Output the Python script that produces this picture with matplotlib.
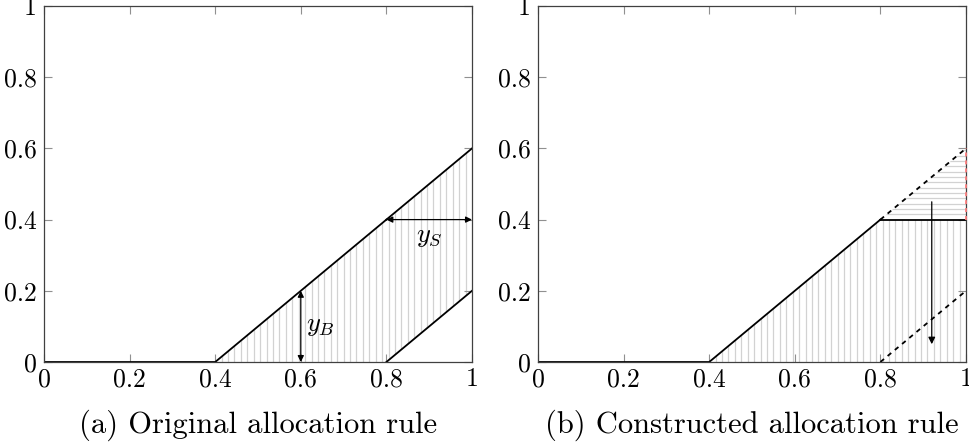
import numpy as np
import matplotlib
matplotlib.use("Agg")
import matplotlib.pyplot as plt

plt.rcParams['font.family'] = ['cmr10', 'DejaVu Serif']
plt.rcParams['mathtext.fontset'] = 'cm'
plt.rcParams['axes.formatter.use_mathtext'] = True

# data
x_pts = [0, 0.4, 0.8, 1.0]
orig_upper = [0, 0, 0.4, 0.6]      # y_B boundary
orig_lower = [0, 0, 0, 0.2]        # y_S boundary
cons_upper = [0, 0, 0.4, 0.4]      # constructed rule
ticks = [0, 0.2, 0.4, 0.6, 0.8, 1.0]
tick_labels = ['0', '0.2', '0.4', '0.6', '0.8', '1']
captions = ['(a) Original allocation rule', '(b) Constructed allocation rule']

hatch_col = '#d2d2d2'
step = 0.015  # pattern spacing

fig = plt.figure(figsize=(9.7, 4.45), dpi=100)
axA = fig.add_axes([44 / 970, 83 / 445, 428 / 970, 356 / 445])
axB = fig.add_axes([538 / 970, 83 / 445, 428 / 970, 356 / 445])

for ax in (axA, axB):
    ax.set_xlim(0, 1)
    ax.set_ylim(0, 1)
    ax.set_xticks(ticks)
    ax.set_xticklabels(tick_labels)
    ax.set_yticks(ticks)
    ax.set_yticklabels(tick_labels)
    ax.tick_params(direction='in', length=5.5, width=0.8, color='#909090',
                   top=True, right=True, labelsize=18.5)
    ax.tick_params(axis='y', pad=5)
    ax.tick_params(axis='x', pad=4)
    for s in ax.spines.values():
        s.set_linewidth(0.9)
        s.set_color('#404040')

xs = np.array(x_pts)


def pattern(ax, poly, vertical=True):
    if vertical:
        lines = ax.vlines(np.arange(0.4 + step, 1.0, step), 0, 1,
                          colors=hatch_col, lw=0.9, zorder=1)
    else:
        lines = ax.hlines(np.arange(0.4 + step, 0.6, step), 0, 1,
                          colors=hatch_col, lw=0.9, zorder=1)
    lines.set_clip_path(poly.get_paths()[0], ax.transData)


# (a) original allocation rule
polyA = axA.fill_between(xs, orig_lower, orig_upper, where=xs >= 0.4,
                         facecolor='none', linewidth=0)
pattern(axA, polyA)
axA.plot(x_pts[:3], orig_upper[:3], color='black', lw=1.3)
axA.plot(x_pts[2:], orig_upper[2:], color='black', lw=1.3)
axA.plot(x_pts[2:], orig_lower[2:], color='black', lw=1.3)
axA.annotate('', xy=(0.6, 0), xytext=(0.6, 0.2),
             arrowprops=dict(arrowstyle='<|-|>', color='black', lw=0.9,
                             mutation_scale=9, shrinkA=0, shrinkB=0))
axA.text(0.612, 0.1, r'$y_B$', fontsize=19, ha='left', va='center')
axA.annotate('', xy=(0.8, 0.4), xytext=(1.0, 0.4),
             arrowprops=dict(arrowstyle='<|-|>', color='black', lw=0.9,
                             mutation_scale=9, shrinkA=0, shrinkB=0))
axA.text(0.9, 0.385, r'$y_S$', fontsize=19, ha='center', va='top')

# (b) constructed allocation rule
polyB = axB.fill_between(xs, 0, cons_upper, where=xs >= 0.4,
                         facecolor='none', linewidth=0)
pattern(axB, polyB)
polyC = axB.fill_between(xs[2:], cons_upper[2:], orig_upper[2:],
                         facecolor='none', linewidth=0)
pattern(axB, polyC, vertical=False)
axB.plot(x_pts[:3], cons_upper[:3], color='black', lw=1.3)
axB.plot(x_pts[2:], cons_upper[2:], color='black', lw=1.3)
axB.plot(x_pts[2:], orig_upper[2:], color='black', lw=1.3, dashes=(2.6, 2.6))
axB.plot(x_pts[2:], orig_lower[2:], color='black', lw=1.3, dashes=(2.6, 2.6))
axB.plot([1, 1], [cons_upper[-1], orig_upper[-1]], color='#ff8080', lw=1.3,
         dashes=(2.2, 2.2), clip_on=False, zorder=3)
axB.annotate('', xy=(0.92, 0.05), xytext=(0.92, 0.45),
             arrowprops=dict(arrowstyle='-|>', color='black', lw=0.9,
                             mutation_scale=10, shrinkA=0, shrinkB=0))

for ax, cap in zip((axA, axB), captions):
    pos = ax.get_position()
    fig.text((pos.x0 + pos.x1) / 2, 20 / 445, cap, fontsize=22,
             ha='center', va='center')

fig.savefig('out.png', dpi=100)
